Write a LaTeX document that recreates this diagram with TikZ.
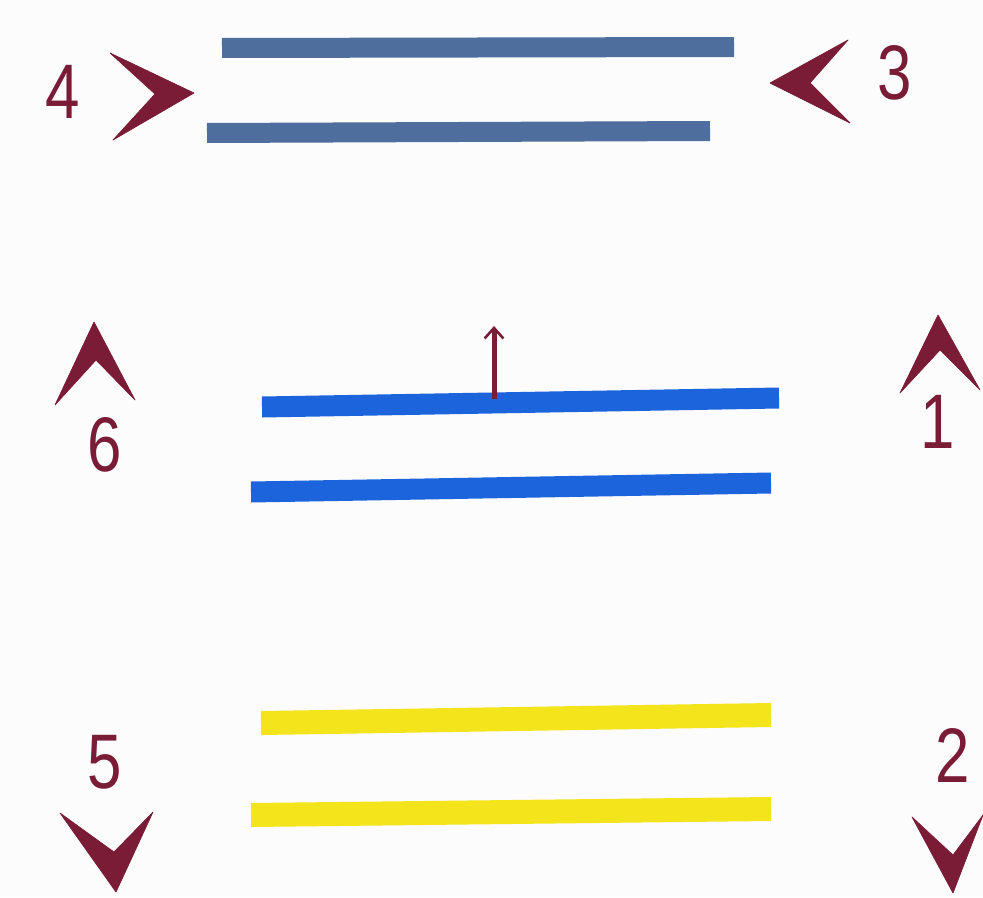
\documentclass[tikz,border=0pt]{standalone}
\usepackage{fontspec}
\setmainfont{Liberation Sans}
\usetikzlibrary{arrows.meta}
\definecolor{maroon}{HTML}{7A1C36}
\definecolor{steelb}{HTML}{4E6E9E}
\definecolor{brightb}{HTML}{1C64DC}
\definecolor{yell}{HTML}{F4E41C}
\definecolor{paper}{HTML}{FCFCFC}
\tikzset{
  bar/.style={line width=20*0.03cm},
  topbar/.style={bar, draw=steelb},
  midbar/.style={bar, draw=brightb, line width=21*0.03cm},
  lowbar/.style={bar, draw=yell, line width=24*0.03cm},
  chev/.style={fill=maroon, draw=maroon, line width=0.6pt, line join=round},
  digit/.style={text=maroon, font=\fontsize{66}{66}\selectfont, inner sep=0pt, xscale=0.8},
}
\begin{document}
\begin{tikzpicture}[x=0.03cm, y=-0.03cm]
\fill[paper] (0,0) rectangle (983,897);
\useasboundingbox (0,0) rectangle (983,897);
% top textured lines
\draw[topbar] (222,48) -- (734,47);
\draw[topbar] (207,133) -- (710,131);
% middle blue lines
\draw[midbar] (262,407) -- (779,398);
\draw[midbar] (251,492) -- (771,483);
% yellow lines
\draw[lowbar] (261,723) -- (771,715);
\draw[lowbar] (251,815) -- (771,809);
% small arrow on upper blue line
\coordinate (arrfoot) at (494,399);
\coordinate (arrtip) at (494,326);
\draw[maroon, line width=5*0.03cm, -{Straight Barb[length=9pt, width=16pt, line width=2.2pt]}] (arrfoot) -- (arrtip);
% chevrons
\fill[chev] (110,53) -- (194,93) -- (113,140) -- (155,94) -- cycle;   % 4 >
\fill[chev] (848,40) -- (770,83) -- (850,123) -- (810,83) -- cycle;   % < 3
\fill[chev] (55,405) -- (94,322) -- (135,400) -- (96,360) -- cycle;   % 6 ^
\fill[chev] (900,393) -- (938,315) -- (980,390) -- (940,350) -- cycle;% 1 ^
\fill[chev] (60,813) -- (116,892) -- (153,812) -- (114,852) -- cycle; % 5 v
\fill[chev] (912,817) -- (953,893) -- (983,815) -- (953,855) -- cycle;% 2 v
% digits
\node[digit] (n4) at (63,92) {4};
\node[digit] (n3) at (895,73) {3};
\node[digit] (n6) at (105,445) {6};
\node[digit] (n1) at (938,422) {1};
\node[digit] (n5) at (105,762) {5};
\node[digit] (n2) at (953,755) {2};
\end{tikzpicture}
\end{document}
